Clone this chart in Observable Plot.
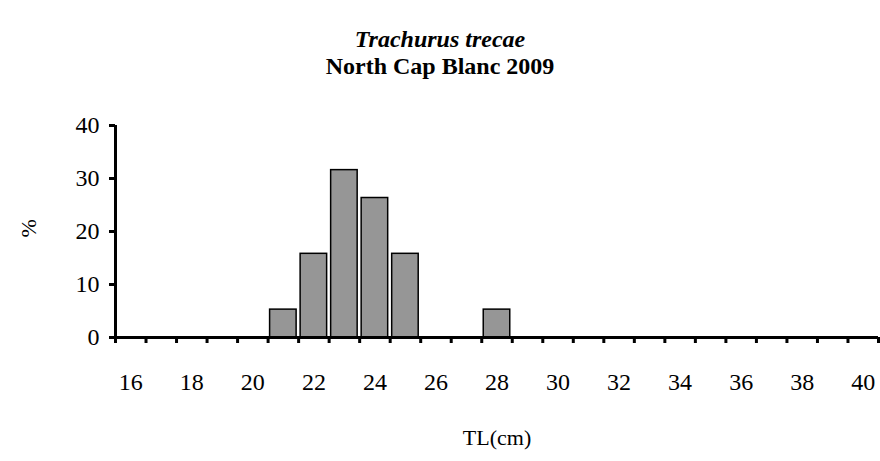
<!DOCTYPE html>
<html><head><meta charset="utf-8">
<script src="https://cdn.jsdelivr.net/npm/d3@7"></script>
<script src="https://cdn.jsdelivr.net/npm/@observablehq/plot@0.6"></script>
<style>
body{margin:0;background:#fff;font-family:"Liberation Serif","Times New Roman",serif;color:#000;}
#head{height:80px;position:relative;width:880px;}
#head div{position:absolute;left:0;width:880px;text-align:center;font-weight:bold;font-size:24px;line-height:27px;}
#t1{top:26px;font-style:italic;}
#t2{top:53px;}
</style></head><body>
<div id="head"><div id="t1">Trachurus trecae</div><div id="t2">North Cap Blanc 2009</div></div>
<div id="chart"></div>
<script>
const lengths = [21, 22, 23, 24, 25, 28];
const percents = [5.26, 15.79, 31.58, 26.32, 15.79, 5.26];
const xLabels = [16, 18, 20, 22, 24, 26, 28, 30, 32, 34, 36, 38, 40];
const yTicks = [0, 10, 20, 30, 40];
const xLabelText = "TL(cm)";
const yLabelText = "%";

const FONT = "'Liberation Serif', 'Times New Roman', serif";
const data = lengths.map((len, i) => ({len, pct: percents[i]}));
const boundaries = d3.range(xLabels[0] - 0.5, xLabels[xLabels.length - 1] + 1, 1);

const chart = Plot.plot({
  width: 880,
  height: 381,
  marginTop: 45,
  marginBottom: 124,
  marginLeft: 115,
  marginRight: 2,
  x: {type: "linear", domain: [xLabels[0] - 0.5, xLabels[xLabels.length - 1] + 0.5]},
  y: {domain: [0, 40]},
  style: {fontFamily: FONT, fontSize: "24px", color: "black", background: "white"},
  marks: [
    Plot.rectY(data, {x1: d => d.len - 0.5, x2: d => d.len + 0.5, y: "pct", fill: "#969696", stroke: "black", strokeWidth: 1.5, insetLeft: 2, insetRight: 2}),
    Plot.ruleY([0], {strokeWidth: 3}),
    Plot.ruleX([boundaries[0]], {strokeWidth: 3}),
    Plot.axisX(boundaries, {tickSize: 6, tickFormat: () => "", strokeWidth: 3, label: null}),
    Plot.axisX(xLabels, {tickSize: 0, tickPadding: 35, fontSize: 24, fontFamily: FONT, label: null}),
    Plot.axisY(yTicks, {tickSize: 6, tickPadding: 10, fontSize: 24, fontFamily: FONT, strokeWidth: 3, label: null}),
    Plot.text([xLabelText], {frameAnchor: "bottom", dy: 107, fontSize: 22, fontFamily: FONT}),
    Plot.text([yLabelText], {frameAnchor: "left", dx: -87, dy: 6, rotate: -90, fontSize: 22, fontFamily: FONT})
  ]
});
document.getElementById("chart").appendChild(chart);
</script>
</body></html>
